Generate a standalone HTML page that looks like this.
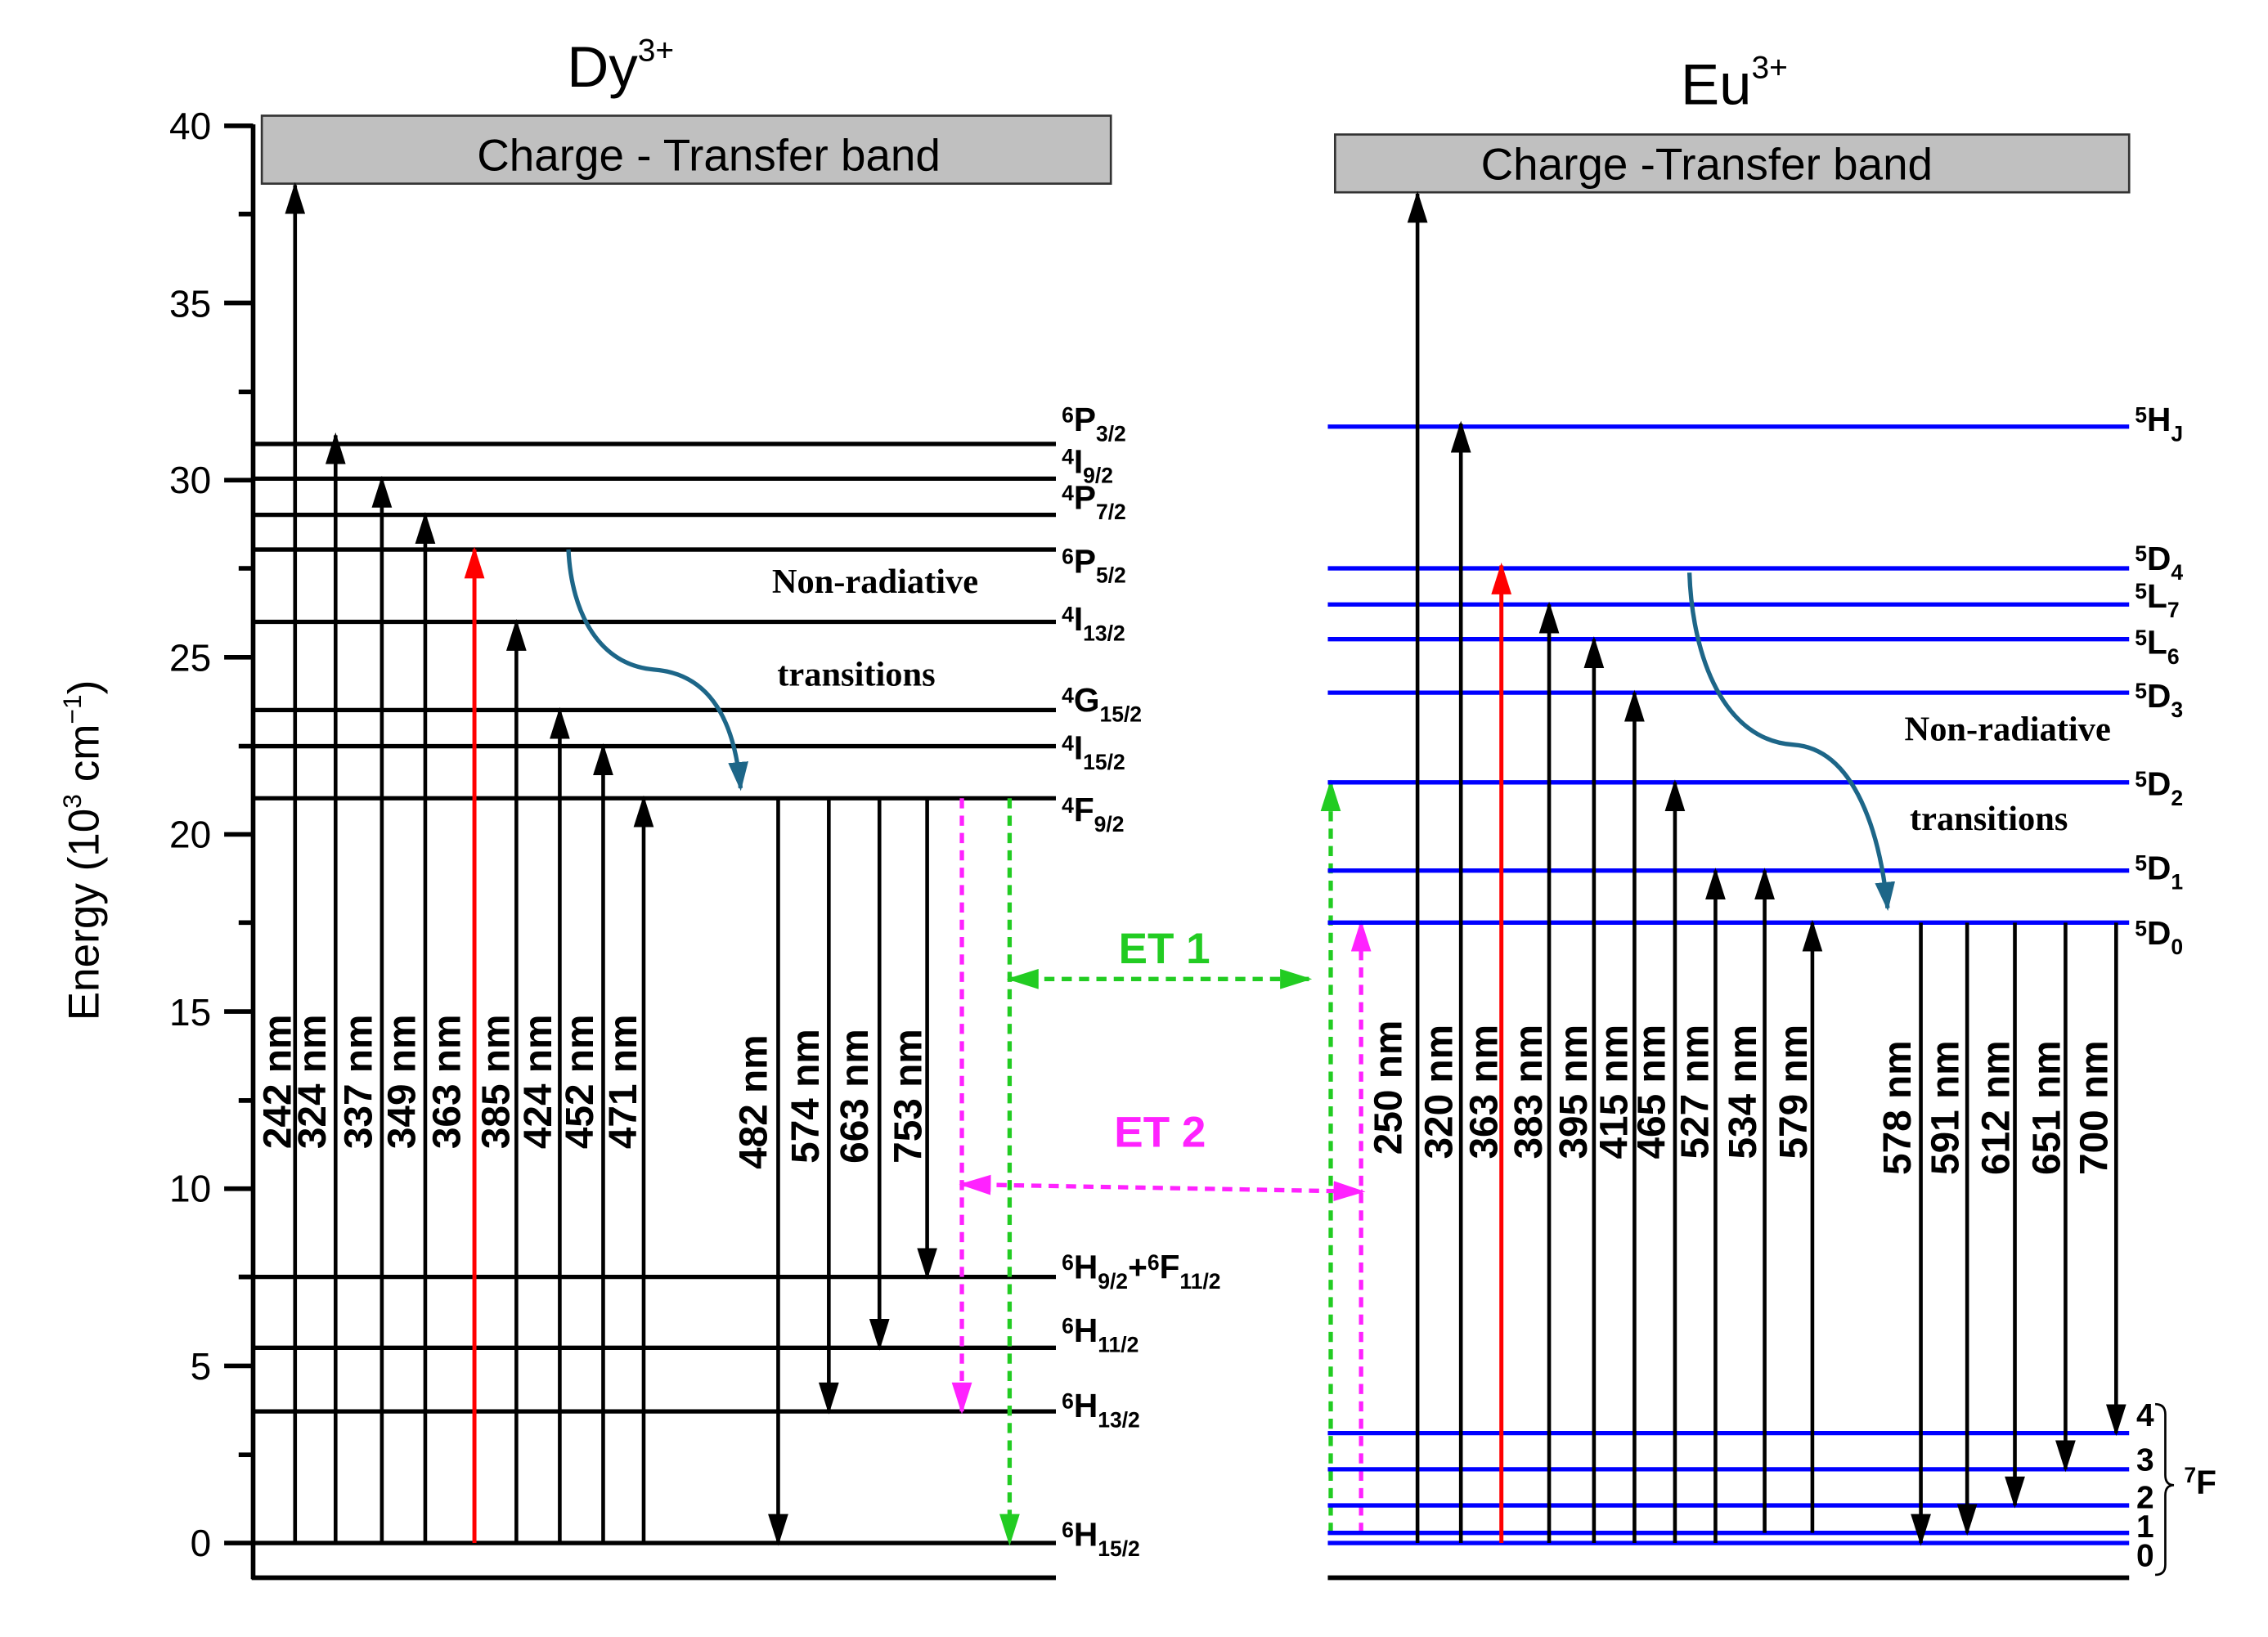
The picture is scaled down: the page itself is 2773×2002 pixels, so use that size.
<!DOCTYPE html>
<html><head><meta charset="utf-8"><style>
html,body{margin:0;padding:0;background:#fff;}
svg{display:block;}
text{font-family:"Liberation Sans",sans-serif;}
.tk{font-size:26px;}
.nm{font-size:27px;font-weight:bold;}
.lv{font-size:23px;font-weight:bold;}
.s{font-size:15px;}
.nr{font-family:"Liberation Serif",serif;font-size:24px;font-weight:bold;}
</style></head><body>
<svg width="2773" height="2002" viewBox="0 0 1568 1132" preserveAspectRatio="none" xmlns="http://www.w3.org/2000/svg">
<defs>
<marker id="a" markerUnits="userSpaceOnUse" markerWidth="22" markerHeight="14" refX="20" refY="7" orient="auto-start-reverse" viewBox="0 0 22 14"><path d="M0,0 L22,7 L0,14 Z" fill="#000"/></marker>
<marker id="ar" markerUnits="userSpaceOnUse" markerWidth="22" markerHeight="14" refX="20" refY="7" orient="auto" viewBox="0 0 22 14"><path d="M0,0 L22,7 L0,14 Z" fill="#f00"/></marker>
<marker id="ag" markerUnits="userSpaceOnUse" markerWidth="22" markerHeight="14" refX="20" refY="7" orient="auto-start-reverse" viewBox="0 0 22 14"><path d="M0,0 L22,7 L0,14 Z" fill="#22cc22"/></marker>
<marker id="am" markerUnits="userSpaceOnUse" markerWidth="22" markerHeight="14" refX="20" refY="7" orient="auto-start-reverse" viewBox="0 0 22 14"><path d="M0,0 L22,7 L0,14 Z" fill="#ff22ff"/></marker>
<marker id="at" markerUnits="userSpaceOnUse" markerWidth="20" markerHeight="14" refX="18" refY="7" orient="auto" viewBox="0 0 20 14"><path d="M0,0 L20,7 L0,14 Z" fill="#1d6688"/></marker>
</defs>

<text x="392" y="60" font-size="40">Dy<tspan font-size="22" dy="-18">3+</tspan></text>
<text x="1162" y="72" font-size="40">Eu<tspan font-size="22" dy="-18">3+</tspan></text>

<g stroke="#000" stroke-width="3.2">
<line x1="175" y1="86" x2="175" y2="1092"/>
<line x1="174" y1="1091" x2="730" y2="1091"/>
<line x1="155" y1="87" x2="175" y2="87"/><line x1="155" y1="209.5" x2="175" y2="209.5"/>
<line x1="155" y1="332" x2="175" y2="332"/><line x1="155" y1="454.5" x2="175" y2="454.5"/>
<line x1="155" y1="577" x2="175" y2="577"/><line x1="155" y1="699.5" x2="175" y2="699.5"/>
<line x1="155" y1="822" x2="175" y2="822"/><line x1="155" y1="944.5" x2="175" y2="944.5"/>
<line x1="155" y1="1067" x2="175" y2="1067"/>
<line x1="165" y1="148" x2="175" y2="148"/><line x1="165" y1="271" x2="175" y2="271"/>
<line x1="165" y1="393" x2="175" y2="393"/><line x1="165" y1="516" x2="175" y2="516"/>
<line x1="165" y1="638" x2="175" y2="638"/><line x1="165" y1="761" x2="175" y2="761"/>
<line x1="165" y1="883" x2="175" y2="883"/><line x1="165" y1="1006" x2="175" y2="1006"/>
</g>
<g class="tk" text-anchor="end">
<text x="146" y="96">40</text><text x="146" y="219">35</text><text x="146" y="341">30</text>
<text x="146" y="464">25</text><text x="146" y="586">20</text><text x="146" y="709">15</text>
<text x="146" y="831">10</text><text x="146" y="954">5</text><text x="146" y="1076">0</text>
</g>
<text transform="translate(68,588) rotate(-90)" text-anchor="middle" font-size="30">Energy (10<tspan font-size="18" dy="-12">3</tspan><tspan dy="12"> cm</tspan><tspan font-size="18" dy="-12">−1</tspan><tspan dy="12">)</tspan></text>

<rect x="181" y="80" width="587" height="47" fill="#c0c0c0" stroke="#333" stroke-width="1.5"/>
<text x="490" y="118" text-anchor="middle" font-size="31">Charge - Transfer band</text>
<rect x="923" y="93" width="549" height="40" fill="#c0c0c0" stroke="#333" stroke-width="1.5"/>
<text x="1180" y="124" text-anchor="middle" font-size="31">Charge -Transfer band</text>

<g stroke="#000" stroke-width="3">
<line x1="175" y1="307" x2="730" y2="307"/><line x1="175" y1="331" x2="730" y2="331"/>
<line x1="175" y1="356" x2="730" y2="356"/><line x1="175" y1="380" x2="730" y2="380"/>
<line x1="175" y1="430" x2="730" y2="430"/><line x1="175" y1="491" x2="730" y2="491"/>
<line x1="175" y1="516" x2="730" y2="516"/><line x1="175" y1="552" x2="730" y2="552"/>
<line x1="175" y1="883" x2="730" y2="883"/><line x1="175" y1="932" x2="730" y2="932"/>
<line x1="175" y1="976" x2="730" y2="976"/><line x1="175" y1="1067" x2="730" y2="1067"/>
</g>
<g class="lv">
<text x="734" y="298"><tspan class="s" dy="-6">6</tspan><tspan dy="6">P</tspan><tspan class="s" dy="7">3/2</tspan></text>
<text x="734" y="327"><tspan class="s" dy="-6">4</tspan><tspan dy="6">I</tspan><tspan class="s" dy="7">9/2</tspan></text>
<text x="734" y="352"><tspan class="s" dy="-6">4</tspan><tspan dy="6">P</tspan><tspan class="s" dy="7">7/2</tspan></text>
<text x="734" y="396"><tspan class="s" dy="-6">6</tspan><tspan dy="6">P</tspan><tspan class="s" dy="7">5/2</tspan></text>
<text x="734" y="436"><tspan class="s" dy="-6">4</tspan><tspan dy="6">I</tspan><tspan class="s" dy="7">13/2</tspan></text>
<text x="734" y="492"><tspan class="s" dy="-6">4</tspan><tspan dy="6">G</tspan><tspan class="s" dy="7">15/2</tspan></text>
<text x="734" y="525"><tspan class="s" dy="-6">4</tspan><tspan dy="6">I</tspan><tspan class="s" dy="7">15/2</tspan></text>
<text x="734" y="568"><tspan class="s" dy="-6">4</tspan><tspan dy="6">F</tspan><tspan class="s" dy="7">9/2</tspan></text>
<text x="734" y="884"><tspan class="s" dy="-6">6</tspan><tspan dy="6">H</tspan><tspan class="s" dy="7">9/2</tspan><tspan dy="-7">+</tspan><tspan class="s" dy="-6">6</tspan><tspan dy="6">F</tspan><tspan class="s" dy="7">11/2</tspan></text>
<text x="734" y="928"><tspan class="s" dy="-6">6</tspan><tspan dy="6">H</tspan><tspan class="s" dy="7">11/2</tspan></text>
<text x="734" y="980"><tspan class="s" dy="-6">6</tspan><tspan dy="6">H</tspan><tspan class="s" dy="7">13/2</tspan></text>
<text x="734" y="1069"><tspan class="s" dy="-6">6</tspan><tspan dy="6">H</tspan><tspan class="s" dy="7">15/2</tspan></text>
</g>

<g stroke="#000" stroke-width="2.6" marker-end="url(#a)">
<line x1="204" y1="1067" x2="204" y2="128"/>
<line x1="232" y1="1067" x2="232" y2="301"/>
<line x1="264" y1="1067" x2="264" y2="331"/>
<line x1="294" y1="1067" x2="294" y2="356"/>
<line x1="357" y1="1067" x2="357" y2="430"/>
<line x1="387" y1="1067" x2="387" y2="491"/>
<line x1="417" y1="1067" x2="417" y2="516"/>
<line x1="445" y1="1067" x2="445" y2="552"/>
<line x1="538" y1="552" x2="538" y2="1067"/>
<line x1="573" y1="552" x2="573" y2="976"/>
<line x1="608" y1="552" x2="608" y2="932"/>
<line x1="641" y1="552" x2="641" y2="883"/>
</g>
<line x1="328" y1="1067" x2="328" y2="380" stroke="#f00" stroke-width="2.8" marker-end="url(#ar)"/>
<g class="nm" text-anchor="middle">
<text transform="translate(201,748) rotate(-90)">242 nm</text>
<text transform="translate(225,748) rotate(-90)">324 nm</text>
<text transform="translate(257,748) rotate(-90)">337 nm</text>
<text transform="translate(287,748) rotate(-90)">349 nm</text>
<text transform="translate(318,748) rotate(-90)">363 nm</text>
<text transform="translate(352,748) rotate(-90)">385 nm</text>
<text transform="translate(381,748) rotate(-90)">424 nm</text>
<text transform="translate(410,748) rotate(-90)">452 nm</text>
<text transform="translate(440,748) rotate(-90)">471 nm</text>
<text transform="translate(530,762) rotate(-90)">482 nm</text>
<text transform="translate(566,758) rotate(-90)">574 nm</text>
<text transform="translate(600,758) rotate(-90)">663 nm</text>
<text transform="translate(637,758) rotate(-90)">753 nm</text>
</g>

<path d="M393,380 C395,425 415,460 452,463 C492,466 508,500 512,545" fill="none" stroke="#1d6688" stroke-width="3" marker-end="url(#at)"/>
<text x="605" y="410" class="nr" text-anchor="middle">Non-radiative</text>
<text x="592" y="474" class="nr" text-anchor="middle">transitions</text>

<g stroke-width="3" stroke-dasharray="7,5" fill="none">
<line x1="665" y1="552" x2="665" y2="976" stroke="#ff22ff" marker-end="url(#am)"/>
<line x1="698" y1="552" x2="698" y2="1067" stroke="#22cc22" marker-end="url(#ag)"/>
<line x1="698" y1="677" x2="905" y2="677" stroke="#22cc22" marker-start="url(#ag)" marker-end="url(#ag)"/>
<line x1="665" y1="819" x2="942" y2="824" stroke="#ff22ff" marker-start="url(#am)" marker-end="url(#am)"/>
<line x1="920" y1="1060" x2="920" y2="541" stroke="#22cc22" marker-end="url(#ag)"/>
<line x1="941" y1="1060" x2="941" y2="638" stroke="#ff22ff" marker-end="url(#am)"/>
</g>
<text x="805" y="666" text-anchor="middle" font-size="30" font-weight="bold" fill="#22cc22">ET 1</text>
<text x="802" y="793" text-anchor="middle" font-size="30" font-weight="bold" fill="#ff22ff">ET 2</text>

<line x1="918" y1="1091" x2="1472" y2="1091" stroke="#000" stroke-width="3.2"/>
<g stroke="#0000ff" stroke-width="3">
<line x1="918" y1="295" x2="1472" y2="295"/><line x1="918" y1="393" x2="1472" y2="393"/>
<line x1="918" y1="418" x2="1472" y2="418"/><line x1="918" y1="442" x2="1472" y2="442"/>
<line x1="918" y1="479" x2="1472" y2="479"/><line x1="918" y1="541" x2="1472" y2="541"/>
<line x1="918" y1="602" x2="1472" y2="602"/><line x1="918" y1="638" x2="1472" y2="638"/>
<line x1="918" y1="991" x2="1472" y2="991"/><line x1="918" y1="1016" x2="1472" y2="1016"/>
<line x1="918" y1="1041" x2="1472" y2="1041"/><line x1="918" y1="1060" x2="1472" y2="1060"/>
<line x1="918" y1="1067" x2="1472" y2="1067"/>
</g>
<g class="lv">
<text x="1476" y="298"><tspan class="s" dy="-6">5</tspan><tspan dy="6">H</tspan><tspan class="s" dy="7">J</tspan></text>
<text x="1476" y="394"><tspan class="s" dy="-6">5</tspan><tspan dy="6">D</tspan><tspan class="s" dy="7">4</tspan></text>
<text x="1476" y="420"><tspan class="s" dy="-6">5</tspan><tspan dy="6">L</tspan><tspan class="s" dy="7">7</tspan></text>
<text x="1476" y="452"><tspan class="s" dy="-6">5</tspan><tspan dy="6">L</tspan><tspan class="s" dy="7">6</tspan></text>
<text x="1476" y="489"><tspan class="s" dy="-6">5</tspan><tspan dy="6">D</tspan><tspan class="s" dy="7">3</tspan></text>
<text x="1476" y="550"><tspan class="s" dy="-6">5</tspan><tspan dy="6">D</tspan><tspan class="s" dy="7">2</tspan></text>
<text x="1476" y="608"><tspan class="s" dy="-6">5</tspan><tspan dy="6">D</tspan><tspan class="s" dy="7">1</tspan></text>
<text x="1476" y="653"><tspan class="s" dy="-6">5</tspan><tspan dy="6">D</tspan><tspan class="s" dy="7">0</tspan></text>
</g>
<g font-size="22" font-weight="bold">
<text x="1477" y="986">4</text><text x="1477" y="1017">3</text><text x="1477" y="1043">2</text>
<text x="1477" y="1063">1</text><text x="1477" y="1083">0</text>
</g>
<path d="M1490,971 Q1497,971 1497,978 L1497,1020 Q1497,1027 1503,1027 Q1497,1027 1497,1034 L1497,1082 Q1497,1089 1490,1089" fill="none" stroke="#000" stroke-width="1.5"/>
<text x="1510" y="1033" font-size="23" font-weight="bold"><tspan font-size="15" dy="-8">7</tspan><tspan dy="8">F</tspan></text>

<g stroke="#000" stroke-width="2.6" marker-end="url(#a)">
<line x1="980" y1="1067" x2="980" y2="134"/>
<line x1="1010" y1="1067" x2="1010" y2="293"/>
<line x1="1071" y1="1067" x2="1071" y2="418"/>
<line x1="1102" y1="1067" x2="1102" y2="442"/>
<line x1="1130" y1="1067" x2="1130" y2="479"/>
<line x1="1158" y1="1067" x2="1158" y2="541"/>
<line x1="1186" y1="1067" x2="1186" y2="602"/>
<line x1="1220" y1="1060" x2="1220" y2="602"/>
<line x1="1253" y1="1060" x2="1253" y2="638"/>
<line x1="1328" y1="638" x2="1328" y2="1067"/>
<line x1="1360" y1="638" x2="1360" y2="1060"/>
<line x1="1393" y1="638" x2="1393" y2="1041"/>
<line x1="1428" y1="638" x2="1428" y2="1016"/>
<line x1="1463" y1="638" x2="1463" y2="991"/>
</g>
<line x1="1038" y1="1067" x2="1038" y2="391" stroke="#f00" stroke-width="2.8" marker-end="url(#ar)"/>
<g class="nm" text-anchor="middle">
<text transform="translate(969,752) rotate(-90)">250 nm</text>
<text transform="translate(1004,755) rotate(-90)">320 nm</text>
<text transform="translate(1035,755) rotate(-90)">363 nm</text>
<text transform="translate(1066,755) rotate(-90)">383 nm</text>
<text transform="translate(1097,755) rotate(-90)">395 nm</text>
<text transform="translate(1125,755) rotate(-90)">415 nm</text>
<text transform="translate(1151,755) rotate(-90)">465 nm</text>
<text transform="translate(1181,755) rotate(-90)">527 nm</text>
<text transform="translate(1214,755) rotate(-90)">534 nm</text>
<text transform="translate(1249,755) rotate(-90)">579 nm</text>
<text transform="translate(1321,766) rotate(-90)">578 nm</text>
<text transform="translate(1354,766) rotate(-90)">591 nm</text>
<text transform="translate(1389,766) rotate(-90)">612 nm</text>
<text transform="translate(1424,766) rotate(-90)">651 nm</text>
<text transform="translate(1457,766) rotate(-90)">700 nm</text>
</g>

<path d="M1168,396 C1170,455 1192,512 1240,515 C1283,518 1300,578 1305,628" fill="none" stroke="#1d6688" stroke-width="3" marker-end="url(#at)"/>
<text x="1388" y="512" class="nr" text-anchor="middle">Non-radiative</text>
<text x="1375" y="574" class="nr" text-anchor="middle">transitions</text>
</svg>
</body></html>
